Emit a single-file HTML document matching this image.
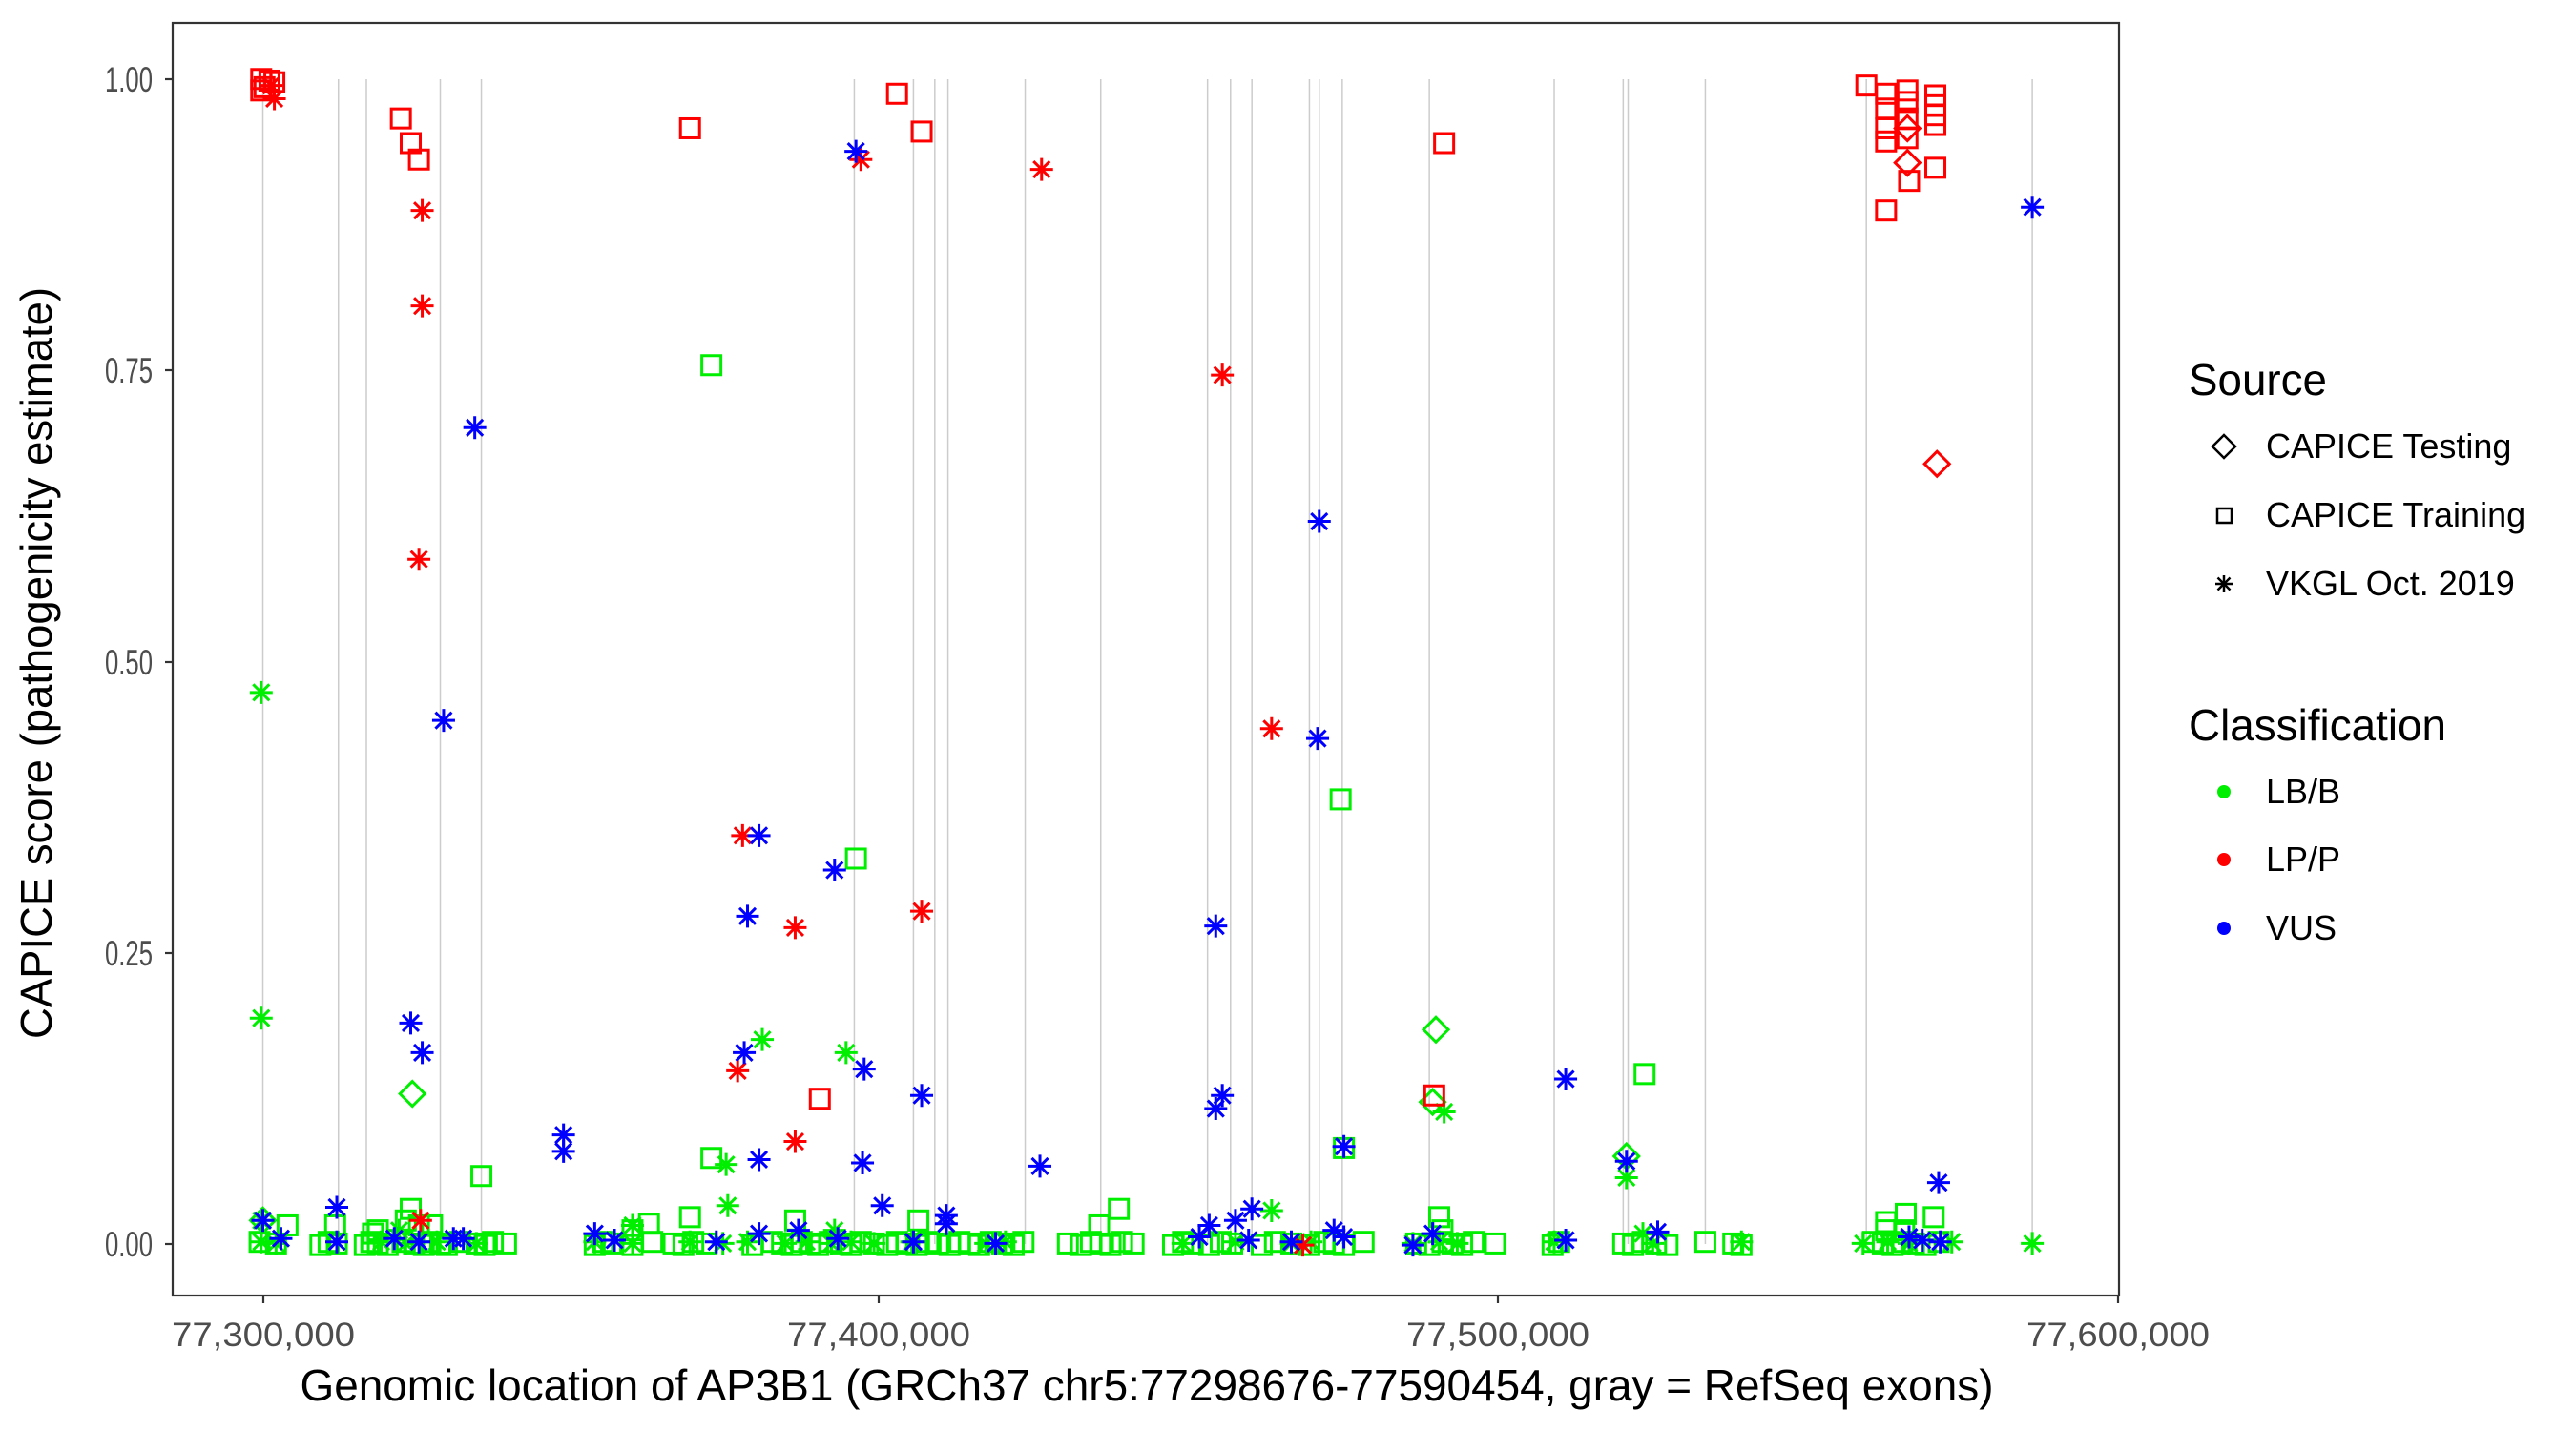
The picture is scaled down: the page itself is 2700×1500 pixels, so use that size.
<!DOCTYPE html>
<html><head><meta charset="utf-8">
<style>
html,body{margin:0;padding:0;background:#fff;}
svg{display:block;font-family:"Liberation Sans",Arial,sans-serif;}
</style></head>
<body>
<svg id="s" width="2700" height="1500" viewBox="0 0 2700 1500" xmlns="http://www.w3.org/2000/svg">
<rect x="0" y="0" width="2700" height="1500" fill="#fff"/>
<g id="exons" stroke="#cccccc" stroke-width="1.5"></g>
<g id="pts" fill="none" stroke-width="3"></g>
<rect x="181" y="24" width="2040" height="1334" fill="none" stroke="#333" stroke-width="2.2"/>
<g stroke="#333" stroke-width="2.2">
<line x1="173" y1="83" x2="181" y2="83"/><line x1="173" y1="388" x2="181" y2="388"/>
<line x1="173" y1="694" x2="181" y2="694"/><line x1="173" y1="999" x2="181" y2="999"/>
<line x1="173" y1="1304" x2="181" y2="1304"/>
<line x1="276" y1="1358" x2="276" y2="1366"/><line x1="921" y1="1358" x2="921" y2="1366"/>
<line x1="1570" y1="1358" x2="1570" y2="1366"/><line x1="2220" y1="1358" x2="2220" y2="1366"/>
</g>
<g font-size="37" fill="#4d4d4d" text-anchor="end">
<text x="160" y="96" textLength="50" lengthAdjust="spacingAndGlyphs">1.00</text><text x="160" y="401" textLength="50" lengthAdjust="spacingAndGlyphs">0.75</text>
<text x="160" y="707" textLength="50" lengthAdjust="spacingAndGlyphs">0.50</text><text x="160" y="1012" textLength="50" lengthAdjust="spacingAndGlyphs">0.25</text>
<text x="160" y="1317" textLength="50" lengthAdjust="spacingAndGlyphs">0.00</text>
</g>
<g font-size="35" fill="#4d4d4d" text-anchor="middle">
<text x="276" y="1411" textLength="192" lengthAdjust="spacingAndGlyphs">77,300,000</text><text x="921" y="1411" textLength="192" lengthAdjust="spacingAndGlyphs">77,400,000</text>
<text x="1570" y="1411" textLength="192" lengthAdjust="spacingAndGlyphs">77,500,000</text><text x="2220" y="1411" textLength="192" lengthAdjust="spacingAndGlyphs">77,600,000</text>
</g>
<text x="1202" y="1468" font-size="46" text-anchor="middle" fill="#000" textLength="1775" lengthAdjust="spacingAndGlyphs">Genomic location of AP3B1 (GRCh37 chr5:77298676-77590454, gray = RefSeq exons)</text>
<text transform="translate(54,695) rotate(-90)" font-size="46" text-anchor="middle" fill="#000" textLength="788" lengthAdjust="spacingAndGlyphs">CAPICE score (pathogenicity estimate)</text>
<g font-size="46" fill="#000"><text x="2294" y="414" textLength="145" lengthAdjust="spacingAndGlyphs">Source</text><text x="2294" y="776" textLength="270" lengthAdjust="spacingAndGlyphs">Classification</text></g>
<g font-size="36" fill="#000">
<text x="2375" y="480">CAPICE Testing</text><text x="2375" y="552">CAPICE Training</text><text x="2375" y="624">VKGL Oct. 2019</text>
<text x="2375" y="842">LB/B</text><text x="2375" y="913">LP/P</text><text x="2375" y="985">VUS</text>
</g>
<g stroke="#000" stroke-width="2.5" fill="none">
<polygon points="2331,456 2343,468 2331,480 2319,468"/>
<rect x="2324" y="533" width="15" height="15"/>
<g transform="translate(2331,612)"><line x1="-9" y1="0" x2="9" y2="0"/><line x1="0" y1="-9" x2="0" y2="9"/><line x1="-6.5" y1="-6.5" x2="6.5" y2="6.5"/><line x1="-6.5" y1="6.5" x2="6.5" y2="-6.5"/></g>
</g>
<circle cx="2331" cy="830" r="7" fill="#00ee00"/>
<circle cx="2331" cy="901" r="7" fill="#ff0000"/>
<circle cx="2331" cy="973" r="7" fill="#0000ff"/>
</svg>
<script>
var SX=1.722,SY=1.7241,NS="http://www.w3.org/2000/svg";
var ex=[160,206,223,268,293,520,556,569,577,624,670,735,749,762,797,803,817,870,946,988,991,1038,1136,1237];
var eg=document.getElementById('exons');
ex.forEach(function(x){var l=document.createElementNS(NS,'line');var X=x*SX;l.setAttribute('x1',X);l.setAttribute('x2',X);l.setAttribute('y1',83);l.setAttribute('y2',1304);eg.appendChild(l);});
var C={g:'#00ee00',r:'#ff0000',b:'#0000ff'};
var P=[];
function add(s,c,arr){for(var i=0;i<arr.length;i+=2)P.push([s,c,arr[i],arr[i+1]]);}
var gsq=[158,168,195,200,205,222,226,230,236,245,252,258,262,268,272,280,290,295,300,308,362,367,372,385,397,410,416,422,430,458,470,476,482,488,493,498,505,512,518,524,532,540,546,552,558,565,571,578,584,590,596,603,610,617,623,650,658,664,670,676,683,690,714,720,726,736,743,750,768,776,786,797,806,812,818,830,862,870,878,884,890,897,910,945,949,988,994,1000,1008,1015,1038,1055,1060,1140,1146,1152,1158,1165,1172,1180];
gsq.forEach(function(x,i){P.push(['s','g',x,755+(i%3)]);});
var gast=[159,168,232,247,266,290,362,385,420,440,455,478,491,506,518,532,555,600,612,720,752,786,798,860,876,887,946,1006,1060,1134,1149,1162,1188,1237];
gast.forEach(function(x,i){P.push(['a','g',x,755+(i%2)]);});
add('s','g',[433,222,816,486,521,522,293,715,433,704,681,735,669,745,1001,653,818,698,250,735,247,742,255,745,204,745,230,748,385,748,395,744,420,740,484,742,559,742,1148,743,1160,738,1177,740,1148,748,1159,748,175,745,227,750,263,745,876,740,878,748]);
add('a','g',[159,421,159,619,464,632,515,640,879,676,442,708,443,733,990,716,774,736,159,742,243,748,385,745,508,748,1000,750]);
add('d','g',[251,665,874,626,872,670,990,703,160,742]);
add('s','r',[159,48,161,53,164,49,167,50,159,55,244,72,250,87,255,97,420,78,546,57,561,80,879,87,1136,52,1148,57,1148,66,1148,78,1148,86,1161,55,1161,62,1161,72,1161,84,1178,58,1178,64,1178,70,1178,76,1148,128,1162,110,1178,102,499,668,873,666]);
add('d','r',[1161,78,1161,99,1179,282]);
add('a','r',[167,60,165,52,257,128,257,186,255,340,256,742,634,103,524,97,744,228,774,443,452,508,561,554,484,564,449,651,484,694,793,757]);
add('a','b',[521,92,1237,126,289,260,803,317,270,438,802,449,462,508,508,529,455,557,740,563,250,622,257,640,453,640,526,650,561,666,744,666,740,674,953,656,343,690,343,700,462,705,525,707,633,709,818,697,990,706,1180,719,537,733,205,734,576,739,576,744,736,745,762,735,752,742,160,742,171,753,205,755,240,753,255,755,276,753,282,753,362,750,374,754,436,755,462,750,486,748,510,753,556,755,606,756,730,752,760,754,786,755,812,748,818,752,860,757,872,750,953,754,1009,749,1162,752,1170,754,1181,755]);
var pg=document.getElementById('pts');
P.forEach(function(p){var X=p[2]*SX,Y=p[3]*SY,c=C[p[1]],e;
 if(p[0]=='s'){e=document.createElementNS(NS,'rect');e.setAttribute('x',X-10);e.setAttribute('y',Y-10);e.setAttribute('width',20);e.setAttribute('height',20);}
 else if(p[0]=='d'){e=document.createElementNS(NS,'polygon');e.setAttribute('points',X+','+(Y-13)+' '+(X+13)+','+Y+' '+X+','+(Y+13)+' '+(X-13)+','+Y);}
 else {e=document.createElementNS(NS,'path');var r=12,q=8.5;e.setAttribute('d','M'+(X-r)+' '+Y+'H'+(X+r)+'M'+X+' '+(Y-r)+'V'+(Y+r)+'M'+(X-q)+' '+(Y-q)+'L'+(X+q)+' '+(Y+q)+'M'+(X-q)+' '+(Y+q)+'L'+(X+q)+' '+(Y-q));}
 e.setAttribute('stroke',c);pg.appendChild(e);});
</script>
</body></html>
